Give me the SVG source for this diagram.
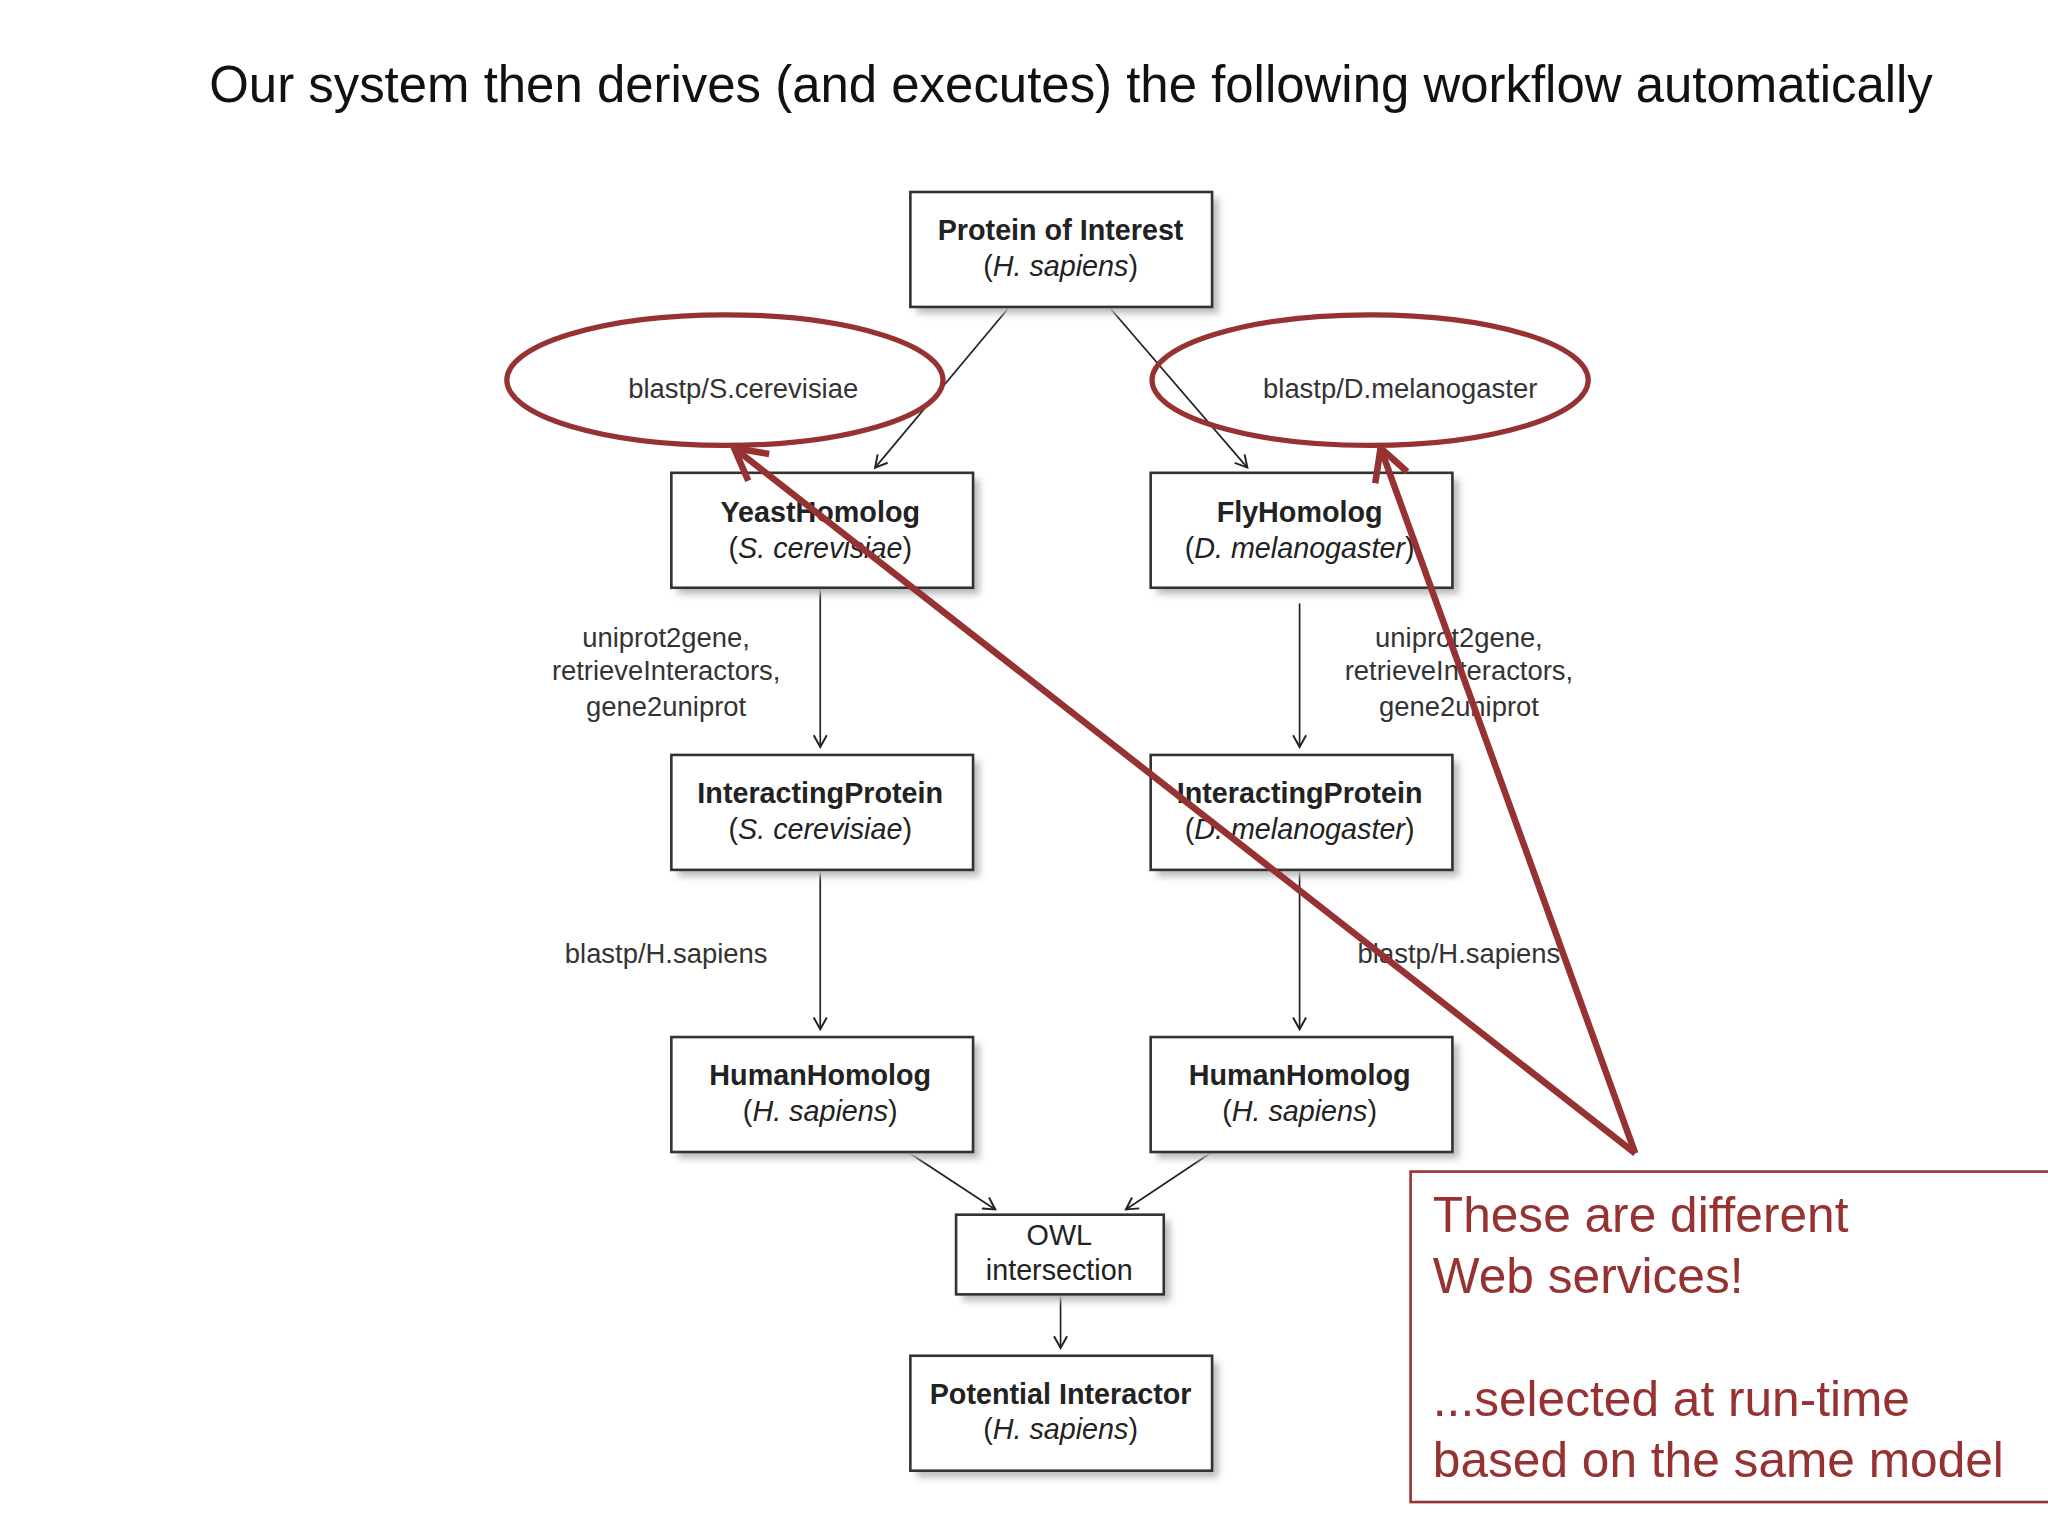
<svg xmlns="http://www.w3.org/2000/svg" width="2048" height="1536" viewBox="0 0 2048 1536">
<style>
.box{fill:#fff;stroke:#333;stroke-width:2}
.sh{fill:#bbb;filter:url(#blur)}
.t{font-family:"Liberation Sans",Arial,sans-serif;font-size:22px;fill:#222;text-anchor:middle}
.b{font-weight:bold}
.i{font-style:italic}
.lbl{font-family:"Liberation Sans",Arial,sans-serif;font-size:21px;fill:#333;text-anchor:middle}
.e{stroke:#222;stroke-width:1.3;fill:none;marker-end:url(#ah)}
.red{stroke:#963232;fill:none}
.rt{font-family:"Liberation Sans",Arial,sans-serif;font-size:38px;fill:#963232}
</style>
<defs>
<filter id="blur"><feGaussianBlur stdDeviation="3"/></filter>
<marker id="ah" markerWidth="12" markerHeight="12" refX="10" refY="6" orient="auto" markerUnits="userSpaceOnUse"><path d="M1,1 L10,6 L1,11" fill="none" stroke="#222" stroke-width="1.5"/></marker>
<marker id="rah" markerWidth="40" markerHeight="40" refX="36" refY="20" orient="auto" markerUnits="userSpaceOnUse"><path d="M12,7 L36,20 L12,33" fill="none" stroke="#963232" stroke-width="5"/></marker>
</defs>
<rect width="2048" height="1536" fill="#fff"/>
<g transform="scale(1.30612)">
<text x="820" y="78" font-family="Liberation Sans,Arial,sans-serif" font-size="39" text-anchor="middle" fill="#111">Our system then derives (and executes) the following workflow automatically</text>
<g id="connectors">
<path class="e" d="M772,236 L670,358"/>
<path class="e" d="M850,236 L955,358"/>
<path class="e" d="M628,451 L628,572"/>
<path class="e" d="M995,462 L995,572"/>
<path class="e" d="M628,667 L628,788"/>
<path class="e" d="M995,667 L995,788"/>
<path class="e" d="M695,882 L762,926"/>
<path class="e" d="M928,882 L862,926"/>
<path class="e" d="M812,992 L812,1032"/>
<text class="lbl" x="510" y="495">uniprot2gene,</text>
<text class="lbl" x="510" y="521">retrieveInteractors,</text>
<text class="lbl" x="510" y="548">gene2uniprot</text>
<text class="lbl" x="1117" y="495">uniprot2gene,</text>
<text class="lbl" x="1117" y="521">retrieveInteractors,</text>
<text class="lbl" x="1117" y="548">gene2uniprot</text>
<text class="lbl" x="510" y="737">blastp/H.sapiens</text>
<text class="lbl" x="1117" y="737">blastp/H.sapiens</text>
<text class="lbl" x="569" y="305">blastp/S.cerevisiae</text>
<text class="lbl" x="1072" y="305">blastp/D.melanogaster</text>
</g>
<g id="n1"><rect class="sh" x="702" y="152" width="231" height="88"/><rect class="box" x="697" y="147" width="231" height="88"/><text class="t b" x="812" y="184">Protein of Interest</text><text class="t" x="812" y="211">(<tspan class="i">H. sapiens</tspan>)</text></g>
<g id="n2"><rect class="sh" x="519" y="367" width="231" height="88"/><rect class="box" x="514" y="362" width="231" height="88"/><text class="t b" x="628" y="400">YeastHomolog</text><text class="t" x="628" y="427">(<tspan class="i">S. cerevisiae</tspan>)</text></g>
<g id="n3"><rect class="sh" x="886" y="367" width="231" height="88"/><rect class="box" x="881" y="362" width="231" height="88"/><text class="t b" x="995" y="400">FlyHomolog</text><text class="t" x="995" y="427">(<tspan class="i">D. melanogaster</tspan>)</text></g>
<g id="n4"><rect class="sh" x="519" y="583" width="231" height="88"/><rect class="box" x="514" y="578" width="231" height="88"/><text class="t b" x="628" y="615">InteractingProtein</text><text class="t" x="628" y="642">(<tspan class="i">S. cerevisiae</tspan>)</text></g>
<g id="n5"><rect class="sh" x="886" y="583" width="231" height="88"/><rect class="box" x="881" y="578" width="231" height="88"/><text class="t b" x="995" y="615">InteractingProtein</text><text class="t" x="995" y="642">(<tspan class="i">D. melanogaster</tspan>)</text></g>
<g id="n6"><rect class="sh" x="519" y="799" width="231" height="88"/><rect class="box" x="514" y="794" width="231" height="88"/><text class="t b" x="628" y="831">HumanHomolog</text><text class="t" x="628" y="858">(<tspan class="i">H. sapiens</tspan>)</text></g>
<g id="n7"><rect class="sh" x="886" y="799" width="231" height="88"/><rect class="box" x="881" y="794" width="231" height="88"/><text class="t b" x="995" y="831">HumanHomolog</text><text class="t" x="995" y="858">(<tspan class="i">H. sapiens</tspan>)</text></g>
<g id="n8"><rect class="sh" x="737" y="935" width="159" height="61"/><rect class="box" x="732" y="930" width="159" height="61"/><text class="t" x="811" y="953">OWL</text><text class="t" x="811" y="980">intersection</text></g>
<g id="n9"><rect class="sh" x="702" y="1043" width="231" height="88"/><rect class="box" x="697" y="1038" width="231" height="88"/><text class="t b" x="812" y="1075">Potential Interactor</text><text class="t" x="812" y="1102">(<tspan class="i">H. sapiens</tspan>)</text></g>
<g id="annotations">
<ellipse class="red" cx="555" cy="291" rx="167" ry="50" stroke-width="4"/>
<ellipse class="red" cx="1049" cy="291" rx="167" ry="50" stroke-width="4"/>
<path class="red" d="M1252,883 L562,343" stroke-width="5" marker-end="url(#rah)"/>
<path class="red" d="M1252,883 L1057,343" stroke-width="5" marker-end="url(#rah)"/>
<rect class="red" x="1080" y="897" width="500" height="253" stroke-width="2"/>
<text class="rt" x="1097" y="943">These are different</text>
<text class="rt" x="1097" y="990">Web services!</text>
<text class="rt" x="1097" y="1084">...selected at run-time</text>
<text class="rt" x="1097" y="1131">based on the same model</text>
</g>
</g>
</svg>
